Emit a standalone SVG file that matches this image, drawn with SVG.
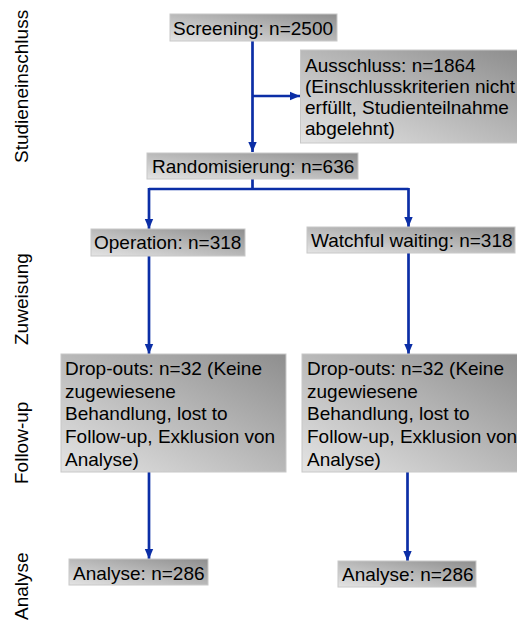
<svg xmlns="http://www.w3.org/2000/svg" width="517" height="621" viewBox="0 0 517 621">
<style>
.box{fill:url(#g);stroke:#c8c8c8;stroke-width:1}
.t{font-family:"Liberation Sans",Arial,sans-serif;font-size:19px;fill:#000}
.c{fill:none;stroke:#0b2ea6;stroke-width:2.7}
</style>
<defs>
<linearGradient id="g" x1="0" y1="1" x2="1" y2="0">
<stop offset="0" stop-color="#e4e4e4"/>
<stop offset="1" stop-color="#8e8e8e"/>
</linearGradient>
<marker id="a" markerUnits="userSpaceOnUse" markerWidth="10" markerHeight="10" viewBox="0 0 10 10" refX="10" refY="5" orient="auto">
<path d="M0,0.8 L10,5 L0,9.2 Z" fill="#0b2ea6"/>
</marker>
</defs>
<rect width="517" height="621" fill="#fff"/>
<g id="phases">
<text class="t" transform="translate(28,163) rotate(-90)">Studieneinschluss</text>
<text class="t" transform="translate(28,345) rotate(-90)">Zuweisung</text>
<text class="t" transform="translate(28,484) rotate(-90)">Follow-up</text>
<text class="t" transform="translate(28,620) rotate(-90)">Analyse</text>
</g>
<g id="connectors">
<path class="c" d="M252.5,41 V152" marker-end="url(#a)"/>
<path class="c" d="M252.5,96 H300" marker-end="url(#a)"/>
<path class="c" d="M252.5,179 V189 M149,189 H408.5"/>
<path class="c" d="M149,188 V229" marker-end="url(#a)"/>
<path class="c" d="M408.5,188 V227" marker-end="url(#a)"/>
<path class="c" d="M149,256 V354" marker-end="url(#a)"/>
<path class="c" d="M408.5,253 V354" marker-end="url(#a)"/>
<path class="c" d="M149,472 V559" marker-end="url(#a)"/>
<path class="c" d="M407.5,472 V561" marker-end="url(#a)"/>
</g>
<g id="screening">
<rect class="box" x="170" y="14" width="167" height="27"/>
<text class="t" x="173" y="35">Screening: n=2500</text>
</g>
<g id="ausschluss">
<rect class="box" x="300.5" y="50" width="218" height="93"/>
<text class="t" x="305"><tspan x="305" y="71.7">Ausschluss: n=1864</tspan><tspan x="305" y="92.8">(Einschlusskriterien nicht</tspan><tspan x="305" y="113.9">erfüllt, Studienteilnahme</tspan><tspan x="305" y="135">abgelehnt)</tspan></text>
</g>
<g id="randomisierung">
<rect class="box" x="147" y="153" width="211" height="26"/>
<text class="t" x="152" y="173">Randomisierung: n=636</text>
</g>
<g id="operation">
<rect class="box" x="91" y="229" width="154" height="27"/>
<text class="t" x="94" y="249">Operation: n=318</text>
</g>
<g id="watchful">
<rect class="box" x="307" y="227" width="208" height="26"/>
<text class="t" x="311" y="247">Watchful waiting: n=318</text>
</g>
<g id="dropouts-left">
<rect class="box" x="61" y="354" width="225" height="118"/>
<text class="t"><tspan x="65" y="375">Drop-outs: n=32 (Keine</tspan><tspan x="65" y="397.7">zugewiesene</tspan><tspan x="65" y="420.4">Behandlung, lost to</tspan><tspan x="65" y="443.1">Follow-up, Exklusion von</tspan><tspan x="65" y="465.8">Analyse)</tspan></text>
</g>
<g id="dropouts-right">
<rect class="box" x="302" y="354" width="216" height="118"/>
<text class="t"><tspan x="307" y="375">Drop-outs: n=32 (Keine</tspan><tspan x="307" y="397.7">zugewiesene</tspan><tspan x="307" y="420.4">Behandlung, lost to</tspan><tspan x="307" y="443.1">Follow-up, Exklusion von</tspan><tspan x="307" y="465.8">Analyse)</tspan></text>
</g>
<g id="analyse-left">
<rect class="box" x="69" y="559" width="139" height="26"/>
<text class="t" x="73" y="580">Analyse: n=286</text>
</g>
<g id="analyse-right">
<rect class="box" x="338" y="561" width="138" height="26"/>
<text class="t" x="342" y="581">Analyse: n=286</text>
</g>
</svg>
